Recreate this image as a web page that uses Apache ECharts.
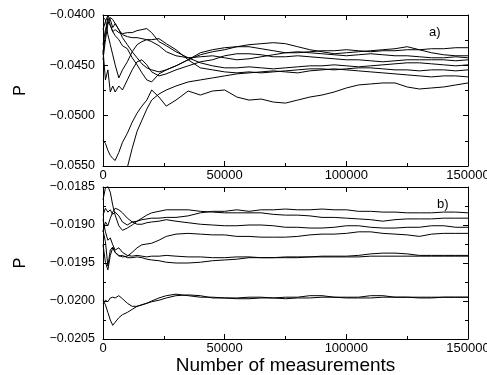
<!DOCTYPE html>
<html><head><meta charset="utf-8">
<script src="https://cdn.jsdelivr.net/npm/echarts/dist/echarts.min.js"></script>
<style>html,body{margin:0;padding:0;background:#fff}#c{width:487px;height:375px}</style>
</head><body><div id="c"></div>
<script>
// x positions (number of measurements) shared by all curves
const measurements = [0,1000,2000,3000,4000,5000,6500,8000,10000,12000,14000,16000,18000,20000,23000,26000,30000,35000,40000,45000,50000,55000,60000,65000,70000,75000,80000,85000,90000,95000,100000,105000,110000,115000,120000,125000,130000,135000,140000,145000,150000];
const xTicks = [0, 50000, 100000, 150000];
const yTicksA = [-0.055, -0.050, -0.045, -0.040];
const yTicksB = [-0.0205, -0.0200, -0.0195, -0.0190, -0.0185];
const panelLabels = ['a)', 'b)'];
const yName = 'P';
const xName = 'Number of measurements';

// panel a) curves
const a1 = [-0.04395,-0.04195,-0.04025,-0.04095,-0.04165,-0.04205,-0.04245,-0.04305,-0.04335,-0.04425,-0.04495,-0.04575,-0.04645,-0.04665,-0.04585,-0.04545,-0.04505,-0.04445,-0.04375,-0.04345,-0.04325,-0.04315,-0.04315,-0.04335,-0.04355,-0.04375,-0.04375,-0.04365,-0.04355,-0.04355,-0.04345,-0.04355,-0.04365,-0.04355,-0.04355,-0.04345,-0.04345,-0.04335,-0.04335,-0.04325,-0.04325];
const a2 = [-0.04145,-0.04065,-0.04005,-0.04045,-0.04125,-0.04085,-0.04145,-0.04225,-0.04295,-0.04365,-0.04425,-0.04485,-0.04525,-0.04545,-0.04565,-0.04545,-0.04505,-0.04445,-0.04395,-0.04365,-0.04345,-0.04315,-0.04295,-0.04285,-0.04275,-0.04285,-0.04315,-0.04345,-0.04365,-0.04385,-0.04375,-0.04365,-0.04355,-0.04345,-0.04335,-0.04315,-0.04345,-0.04375,-0.04395,-0.04405,-0.04405];
const a3 = [-0.04295,-0.04145,-0.04065,-0.04105,-0.04165,-0.04145,-0.04175,-0.04185,-0.04175,-0.04175,-0.04155,-0.04145,-0.04135,-0.04175,-0.04265,-0.04305,-0.04365,-0.04425,-0.04475,-0.04505,-0.04525,-0.04525,-0.04515,-0.04525,-0.04535,-0.04525,-0.04515,-0.04505,-0.04505,-0.04495,-0.04505,-0.04515,-0.04505,-0.04495,-0.04485,-0.04475,-0.04475,-0.04485,-0.04495,-0.04505,-0.04495];
const a4 = [-0.04445,-0.04245,-0.04095,-0.04025,-0.04045,-0.04085,-0.04145,-0.04195,-0.04215,-0.04225,-0.04225,-0.04235,-0.04245,-0.04245,-0.04235,-0.04285,-0.04345,-0.04445,-0.04525,-0.04545,-0.04565,-0.04575,-0.04565,-0.04575,-0.04565,-0.04555,-0.04545,-0.04535,-0.04535,-0.04545,-0.04535,-0.04525,-0.04525,-0.04535,-0.04545,-0.04545,-0.04555,-0.04545,-0.04545,-0.04555,-0.04545];
const a5 = [-0.04345,-0.04645,-0.04545,-0.04765,-0.04705,-0.04765,-0.04705,-0.04745,-0.04645,-0.04545,-0.04465,-0.04445,-0.04495,-0.04565,-0.04605,-0.04585,-0.04545,-0.04505,-0.04465,-0.04445,-0.04405,-0.04385,-0.04385,-0.04395,-0.04415,-0.04415,-0.04405,-0.04415,-0.04425,-0.04435,-0.04445,-0.04445,-0.04455,-0.04465,-0.04455,-0.04445,-0.04445,-0.04445,-0.04445,-0.04455,-0.04445];
const a6 = [-0.04025,-0.04045,-0.04195,-0.04295,-0.04395,-0.04495,-0.04625,-0.04545,-0.04465,-0.04365,-0.04295,-0.04265,-0.04245,-0.04265,-0.04305,-0.04365,-0.04405,-0.04425,-0.04415,-0.04405,-0.04425,-0.04445,-0.04435,-0.04415,-0.04395,-0.04375,-0.04365,-0.04375,-0.04385,-0.04395,-0.04405,-0.04395,-0.04385,-0.04395,-0.04405,-0.04405,-0.04415,-0.04425,-0.04425,-0.04415,-0.04425];
const a7 = [-0.05245,-0.05275,-0.05345,-0.05395,-0.05425,-0.05445,-0.05365,-0.05265,-0.05175,-0.05065,-0.04975,-0.04905,-0.04845,-0.04745,-0.04815,-0.04905,-0.04845,-0.04755,-0.04795,-0.04755,-0.04745,-0.04815,-0.04845,-0.04835,-0.04865,-0.04875,-0.04845,-0.04815,-0.04795,-0.04765,-0.04725,-0.04695,-0.04685,-0.04675,-0.04675,-0.04715,-0.04735,-0.04725,-0.04715,-0.04695,-0.04675];
const a8 = [null,null,null,null,null,null,-0.05895,-0.05695,-0.05515,-0.05325,-0.05155,-0.05045,-0.04935,-0.04845,-0.04785,-0.04745,-0.04705,-0.04665,-0.04645,-0.04625,-0.04605,-0.04585,-0.04575,-0.04565,-0.04555,-0.04565,-0.04575,-0.04555,-0.04545,-0.04535,-0.04545,-0.04555,-0.04565,-0.04575,-0.04585,-0.04595,-0.04605,-0.04615,-0.04605,-0.04605,-0.04615];

// panel b) curves
const b1 = [-0.01867,-0.01851,-0.01849,-0.01857,-0.01874,-0.01887,-0.01901,-0.01907,-0.01904,-0.01900,-0.01895,-0.01891,-0.01887,-0.01884,-0.01882,-0.01880,-0.01880,-0.01880,-0.01882,-0.01883,-0.01884,-0.01884,-0.01884,-0.01884,-0.01886,-0.01887,-0.01887,-0.01888,-0.01890,-0.01890,-0.01891,-0.01892,-0.01893,-0.01895,-0.01893,-0.01892,-0.01892,-0.01892,-0.01891,-0.01891,-0.01891];
const b2 = [-0.01887,-0.01878,-0.01883,-0.01880,-0.01886,-0.01883,-0.01888,-0.01896,-0.01900,-0.01896,-0.01895,-0.01893,-0.01892,-0.01891,-0.01891,-0.01890,-0.01890,-0.01888,-0.01884,-0.01882,-0.01882,-0.01880,-0.01882,-0.01880,-0.01880,-0.01879,-0.01880,-0.01880,-0.01879,-0.01880,-0.01880,-0.01882,-0.01882,-0.01883,-0.01883,-0.01884,-0.01884,-0.01884,-0.01883,-0.01883,-0.01884];
const b3 = [-0.01909,-0.01896,-0.01901,-0.01891,-0.01883,-0.01878,-0.01880,-0.01884,-0.01891,-0.01896,-0.01899,-0.01899,-0.01897,-0.01896,-0.01895,-0.01893,-0.01895,-0.01897,-0.01899,-0.01900,-0.01901,-0.01901,-0.01900,-0.01900,-0.01901,-0.01903,-0.01903,-0.01904,-0.01904,-0.01903,-0.01901,-0.01901,-0.01903,-0.01904,-0.01904,-0.01903,-0.01903,-0.01901,-0.01901,-0.01903,-0.01903];
const b4 = [-0.01907,-0.01922,-0.01954,-0.01933,-0.01929,-0.01936,-0.01940,-0.01942,-0.01941,-0.01936,-0.01930,-0.01926,-0.01925,-0.01924,-0.01920,-0.01915,-0.01912,-0.01911,-0.01912,-0.01913,-0.01913,-0.01915,-0.01915,-0.01916,-0.01916,-0.01916,-0.01915,-0.01913,-0.01912,-0.01912,-0.01911,-0.01909,-0.01909,-0.01911,-0.01912,-0.01913,-0.01915,-0.01912,-0.01911,-0.01911,-0.01911];
const b5 = [-0.01893,-0.01909,-0.01920,-0.01917,-0.01926,-0.01933,-0.01930,-0.01936,-0.01940,-0.01941,-0.01940,-0.01941,-0.01942,-0.01941,-0.01941,-0.01940,-0.01941,-0.01942,-0.01942,-0.01943,-0.01943,-0.01942,-0.01942,-0.01943,-0.01943,-0.01942,-0.01942,-0.01942,-0.01941,-0.01941,-0.01941,-0.01940,-0.01938,-0.01937,-0.01937,-0.01938,-0.01940,-0.01940,-0.01940,-0.01940,-0.01940];
const b6 = [-0.01926,-0.01949,-0.01959,-0.01940,-0.01930,-0.01936,-0.01941,-0.01940,-0.01943,-0.01943,-0.01942,-0.01943,-0.01945,-0.01946,-0.01947,-0.01949,-0.01950,-0.01950,-0.01949,-0.01947,-0.01946,-0.01945,-0.01943,-0.01943,-0.01943,-0.01943,-0.01943,-0.01942,-0.01942,-0.01942,-0.01942,-0.01942,-0.01941,-0.01941,-0.01941,-0.01941,-0.01941,-0.01941,-0.01941,-0.01941,-0.01941];
const b7 = [-0.01999,-0.02005,-0.02015,-0.02025,-0.02032,-0.02028,-0.02022,-0.02018,-0.02015,-0.02011,-0.02007,-0.02005,-0.02003,-0.02000,-0.01996,-0.01993,-0.01991,-0.01993,-0.01995,-0.01995,-0.01996,-0.01996,-0.01995,-0.01995,-0.01996,-0.01995,-0.01995,-0.01993,-0.01993,-0.01995,-0.01995,-0.01995,-0.01993,-0.01993,-0.01995,-0.01995,-0.01995,-0.01995,-0.01995,-0.01995,-0.01995];
const b8 = [-0.02003,-0.01999,-0.02001,-0.01996,-0.01995,-0.01996,-0.01993,-0.01997,-0.02003,-0.02007,-0.02007,-0.02005,-0.02003,-0.02001,-0.01999,-0.01996,-0.01993,-0.01992,-0.01993,-0.01996,-0.01996,-0.01997,-0.01997,-0.01996,-0.01996,-0.01997,-0.01996,-0.01996,-0.01995,-0.01995,-0.01996,-0.01996,-0.01996,-0.01995,-0.01995,-0.01995,-0.01996,-0.01996,-0.01995,-0.01995,-0.01995];

const panelA = [a1, a2, a3, a4, a5, a6, a7, a8];
const panelB = [b1, b2, b3, b4, b5, b6, b7, b8];

const FONT = '"Liberation Sans", Arial, Helvetica, sans-serif';
const BLACK = '#000';

function pairs(vals) {
  const out = [];
  measurements.forEach((x, i) => { if (vals[i] !== null) out.push([x, vals[i]]); });
  return out;
}
function fmtY(v) { return (v < 0 ? '\u2212' : '') + Math.abs(v).toFixed(4); }

function xAxis(gridIndex, position, showLabel, withName) {
  const ax = {
    type: 'value', gridIndex, position,
    min: xTicks[0], max: xTicks[xTicks.length - 1], interval: xTicks[1] - xTicks[0],
    axisLine: { show: true, onZero: false, lineStyle: { color: BLACK, width: 1 } },
    axisTick: { show: true, inside: true, length: 5, lineStyle: { color: BLACK, width: 1 } },
    minorTick: { show: true, splitNumber: 2, length: 3, lineStyle: { color: BLACK, width: 1 } },
    splitLine: { show: false }, minorSplitLine: { show: false },
    axisLabel: { show: showLabel, color: BLACK, fontSize: 13, fontFamily: FONT, margin: 3, formatter: v => String(v) }
  };
  if (withName) {
    ax.name = xName; ax.nameLocation = 'middle'; ax.nameGap = 14;
    ax.nameTextStyle = { color: BLACK, fontSize: 19, fontFamily: FONT };
  }
  return ax;
}
function yAxis(gridIndex, position, ticks, showLabel) {
  const ax = {
    type: 'value', gridIndex, position,
    min: ticks[0], max: ticks[ticks.length - 1], interval: +(ticks[1] - ticks[0]).toFixed(6),
    axisLine: { show: true, onZero: false, lineStyle: { color: BLACK, width: 1 } },
    axisTick: { show: true, inside: true, length: 5, lineStyle: { color: BLACK, width: 1 } },
    minorTick: { show: true, splitNumber: 2, length: 3, lineStyle: { color: BLACK, width: 1 } },
    splitLine: { show: false }, minorSplitLine: { show: false },
    axisLabel: { show: showLabel, color: BLACK, fontSize: 12.5, fontFamily: FONT, margin: 8, formatter: fmtY }
  };
  if (showLabel) {
    ax.name = yName; ax.nameLocation = 'middle'; ax.nameGap = 74; ax.nameRotate = 90;
    ax.nameTextStyle = { color: BLACK, fontSize: 16, fontFamily: FONT };
  }
  return ax;
}

const series = [];
panelA.forEach(v => series.push({ type: 'line', xAxisIndex: 0, yAxisIndex: 0, data: pairs(v), symbol: 'none', showSymbol: false, clip: true, silent: true, lineStyle: { color: BLACK, width: 1 } }));
panelB.forEach(v => series.push({ type: 'line', xAxisIndex: 2, yAxisIndex: 2, data: pairs(v), symbol: 'none', showSymbol: false, clip: true, silent: true, lineStyle: { color: BLACK, width: 1 } }));

const chart = echarts.init(document.getElementById('c'), null, { renderer: 'canvas' });
chart.setOption({
  animation: false,
  backgroundColor: '#fff',
  grid: [
    { left: 103, top: 15, width: 365, height: 151, outerBoundsMode: 'none' },
    { left: 103, top: 187, width: 365, height: 152, outerBoundsMode: 'none' }
  ],
  xAxis: [ xAxis(0, 'bottom', true, false), xAxis(0, 'top', false, false), xAxis(1, 'bottom', true, true), xAxis(1, 'top', false, false) ],
  yAxis: [ yAxis(0, 'left', yTicksA, true), yAxis(0, 'right', yTicksA, false), yAxis(1, 'left', yTicksB, true), yAxis(1, 'right', yTicksB, false) ],
  graphic: [
    { type: 'text', left: 429, top: 26, style: { text: panelLabels[0], fill: BLACK, font: '13px ' + FONT } },
    { type: 'text', left: 437, top: 198, style: { text: panelLabels[1], fill: BLACK, font: '13px ' + FONT } }
  ],
  series
});
</script>
</body></html>
